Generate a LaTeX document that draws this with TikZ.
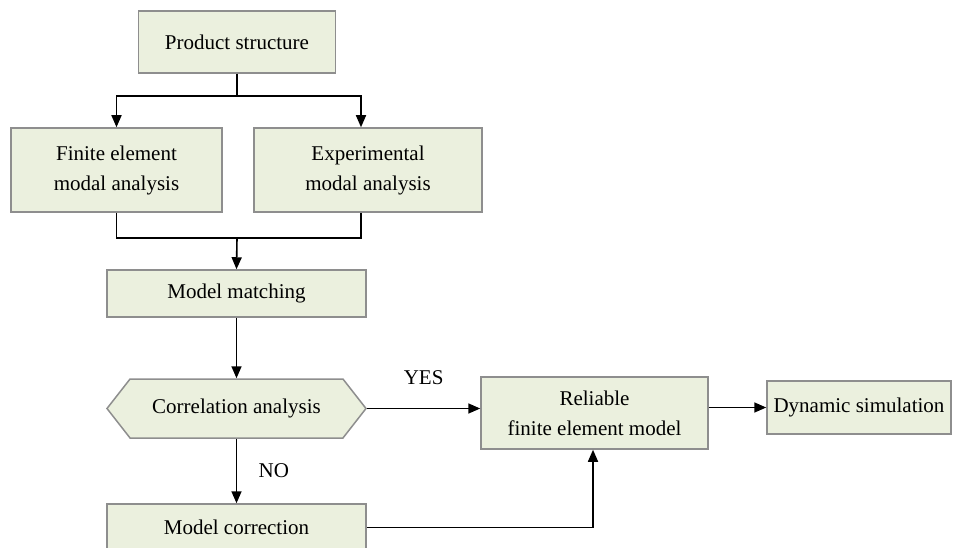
\documentclass[tikz,border=0pt]{standalone}
\usepackage{fontspec}
\setmainfont{Liberation Serif}
\usepackage{tikz}
\usetikzlibrary{arrows.meta,positioning,shapes.symbols,calc}

\definecolor{boxfill}{HTML}{EBF0DE}
\definecolor{boxline}{HTML}{8E8E8E}

\tikzset{
  stepbox/.style={draw=boxline, line width=1.5pt, fill=boxfill, align=center,
    inner sep=0pt, font=\fontsize{21}{30}\selectfont},
  decide/.style={stepbox, signal, signal to=west and east, signal pointer angle=104},
  arr/.style={-{Triangle[length=12pt,width=10pt]}, line width=1.6pt},
  link/.style={line width=1.6pt}
}

\begin{document}
\begin{tikzpicture}[x=1pt,y=-1pt]
  \useasboundingbox (0,0) rectangle (955,548);

  \node[stepbox, minimum width=197pt, minimum height=62pt] (product) at (237,42) {Product structure};
  \node[stepbox, minimum width=211pt, minimum height=84pt] (femodal) at (116.5,170) {Finite element\\modal analysis};
  \node[stepbox, minimum width=228pt, minimum height=84pt] (expmodal) at (368,170) {Experimental\\modal analysis};
  \node[stepbox, minimum width=259pt, minimum height=47pt] (matching) at (236.5,293.5) {Model matching};
  \node[decide, minimum width=259pt, minimum height=59pt] (correlation) at (236.5,408.5) {Correlation analysis};
  \node[stepbox, minimum width=227pt, minimum height=72pt] (reliable) at (594.5,413) {Reliable\\finite element model};
  \node[stepbox, minimum width=184pt, minimum height=53pt] (dynamic) at (859,407.5) {Dynamic simulation};
  \node[stepbox, minimum width=259pt, minimum height=47pt] (correction) at (236.5,527.5) {Model correction};

  \coordinate (split) at (237,96);
  \coordinate (merge) at (237,238);

  \draw[link] (product.south) -- (split);
  \draw[arr] (split) -| (femodal.north);
  \draw[arr] (split) -| ([xshift=-7pt]expmodal.north);

  \draw[link] (femodal.south) |- (merge);
  \draw[link] ([xshift=-7pt]expmodal.south) |- (merge);
  \draw[arr] (merge) -- (matching.north);

  \draw[arr] (matching.south) -- (correlation.north);
  \draw[arr] (correlation.east) -- (correlation.east -| reliable.west)
    node[midway, above=20pt, font=\fontsize{21}{24}\selectfont] (yes) {YES};
  \draw[arr] (correlation.south) -- (correction.north)
    node[midway, right=18pt, font=\fontsize{21}{24}\selectfont] (no) {NO};
  \draw[arr] (correction.east) -| ([xshift=-1.5pt]reliable.south);
  \draw[arr] (reliable.east |- dynamic.west) -- (dynamic.west);
\end{tikzpicture}
\end{document}
